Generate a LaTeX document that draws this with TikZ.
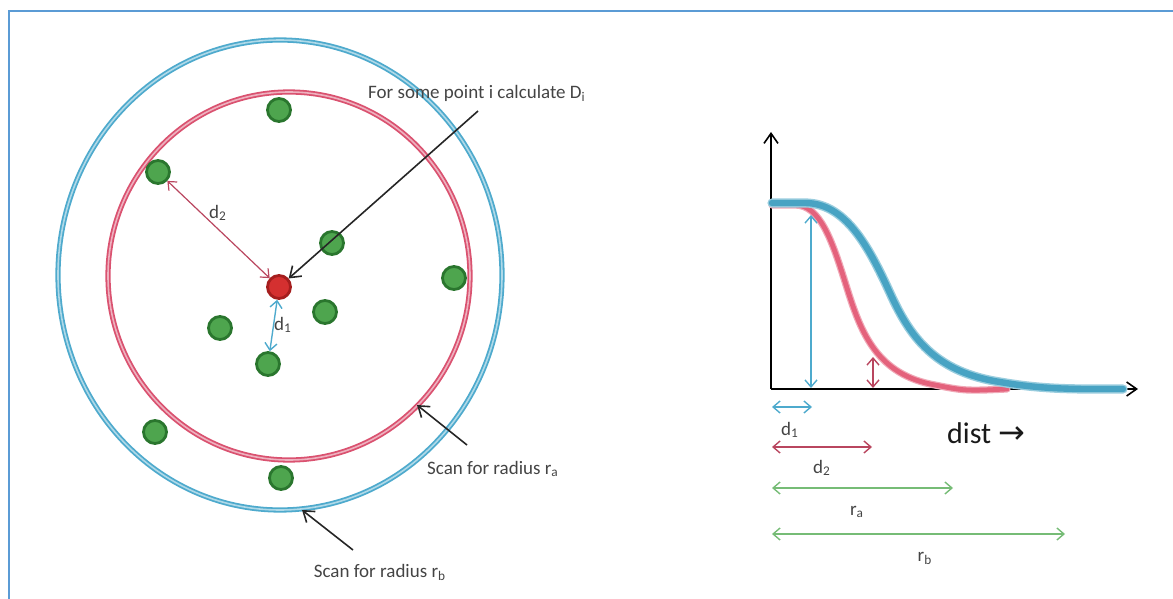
\documentclass[tikz,border=0pt]{standalone}
\usepackage{fontspec}
\setmainfont{Carlito}
\newfontfamily\arrowfont{DejaVu Sans}
\usetikzlibrary{arrows.meta}

\definecolor{framecol}{RGB}{91,155,213}
\definecolor{ringblue}{RGB}{78,170,205}
\definecolor{ringred}{RGB}{218,82,112}
\definecolor{dotgreen}{RGB}{78,165,78}
\definecolor{dotedge}{RGB}{42,118,46}
\definecolor{dotred}{RGB}{212,48,48}
\definecolor{dotredge}{RGB}{165,30,30}
\definecolor{curveblue}{RGB}{72,163,195}
\definecolor{curvered}{RGB}{228,98,124}
\definecolor{scalegreen}{RGB}{118,188,118}
\definecolor{labelgray}{RGB}{68,68,68}

\begin{document}
\begin{tikzpicture}[x=0.5pt, y=-0.5pt,
    font=\fontsize{9.5}{11}\selectfont, text=labelgray,
    dot/.style={circle, draw=dotedge, line width=1.4pt, fill=dotgreen, inner sep=0pt, minimum size=11.5pt},
    ring/.style={draw=#1, line width=0.9pt, double=#1!45, double distance=0.8pt},
    tip/.style={-{Straight Barb[length=5pt, width=7pt]}, line width=0.8pt, draw=black!85},
    both/.style={{Straight Barb[length=3.5pt, width=6pt]}-{Straight Barb[length=3.5pt, width=6pt]}, line width=0.7pt, draw=#1},
    curve/.style={line width=#1, line cap=round}
  ]
    \useasboundingbox (0,0) rectangle (1173,599);
    \draw[framecol, line width=1pt] (1173,11) -- (9,11) -- (9,599);

    % scan circles
    \draw[ring=ringblue] (280,275) ellipse [x radius=222, y radius=235];
    \draw[ring=ringred] (289,276) ellipse [x radius=181, y radius=184];

    % points
    \node[dot] (g1) at (279,110) {};
    \node[dot] (g2) at (158,172) {};
    \node[dot] (g3) at (332,243) {};
    \node[dot] (g4) at (454,278) {};
    \node[dot] (g5) at (325,312) {};
    \node[dot] (g6) at (220,328) {};
    \node[dot] (g7) at (268,364) {};
    \node[dot] (g8) at (155,432) {};
    \node[dot] (g9) at (281,478) {};
    \node[dot, draw=dotredge, fill=dotred] (pi) at (279,287) {};

    \draw[both=ringred!85!black, line width=0.6pt] (g2) -- (pi);
    \node at (218,213) {d\textsubscript{2}};
    \draw[both=ringblue] (pi) -- (g7);
    \node at (283,325) {d\textsubscript{1}};

    % labels with pointers
    \node (calc) at (477,93) {For some point i calculate D\textsubscript{i}};
    \coordinate (calctail) at (478,111);
    \draw[tip] (calctail) -- (pi);

    \node (scana) at (493,469) {Scan for radius r\textsubscript{a}};
    \coordinate (scanatail) at (467,445);
    \coordinate (rapt) at (417,405);
    \draw[tip] (scanatail) -- (rapt);

    \node (scanb) at (380,572) {Scan for radius r\textsubscript{b}};
    \coordinate (scanbtail) at (353,550);
    \coordinate (rbpt) at (302,510);
    \draw[tip] (scanbtail) -- (rbpt);

    % plot of D against distance
    \coordinate (origin) at (771,389);
    \coordinate (ytop) at (771,132);
    \coordinate (xend) at (1138,389);
    \draw[tip, draw=black] (origin) -- (ytop);
    \draw[tip, draw=black] (origin) -- (xend);

    \draw[curve=3.6pt, curvered!55] (772,205) -- (795,205) .. controls (820,205) and (832,240) .. (846,285) .. controls (860,330) and (875,372) .. (930,384) .. controls (965,391) .. (1007,389);
    \draw[curve=2.4pt, curvered] (772,205) -- (795,205) .. controls (820,205) and (832,240) .. (846,285) .. controls (860,330) and (875,372) .. (930,384) .. controls (965,391) .. (1007,389);
    \draw[curve=4.6pt, curveblue!55] (772,203) -- (805,203) .. controls (845,203) and (868,245) .. (890,293) .. controls (910,337) and (935,372) .. (1000,382) .. controls (1045,390) and (1080,389) .. (1123,389);
    \draw[curve=3.2pt, curveblue] (772,203) -- (805,203) .. controls (845,203) and (868,245) .. (890,293) .. controls (910,337) and (935,372) .. (1000,382) .. controls (1045,390) and (1080,389) .. (1123,389);

    \coordinate (vb1) at (811,215);
    \coordinate (vb2) at (811,388);
    \draw[both=ringblue] (vb1) -- (vb2);
    \coordinate (vr1) at (873,357);
    \coordinate (vr2) at (873,388);
    \draw[both=ringred!85!black] (vr1) -- (vr2);

    % distance scales
    \coordinate (d1a) at (772,407);
    \coordinate (d1b) at (812,407);
    \draw[both=ringblue] (d1a) -- (d1b);
    \node at (790,430) {d\textsubscript{1}};
    \coordinate (d2a) at (772,447);
    \coordinate (d2b) at (872,447);
    \draw[both=ringred!85!black] (d2a) -- (d2b);
    \node at (822,468) {d\textsubscript{2}};
    \coordinate (raa) at (772,488);
    \coordinate (rab) at (953,488);
    \draw[both=scalegreen] (raa) -- (rab);
    \node at (857,512) {r\textsubscript{a}};
    \coordinate (rba) at (772,534);
    \coordinate (rbb) at (1065,534);
    \draw[both=scalegreen] (rba) -- (rbb);
    \node at (925,558) {r\textsubscript{b}};

    \node[text=black!90, font=\fontsize{15}{18}\selectfont] (dist) at (986,433) {dist {\arrowfont\fontsize{16}{18}\selectfont →}};
\end{tikzpicture}
\end{document}
